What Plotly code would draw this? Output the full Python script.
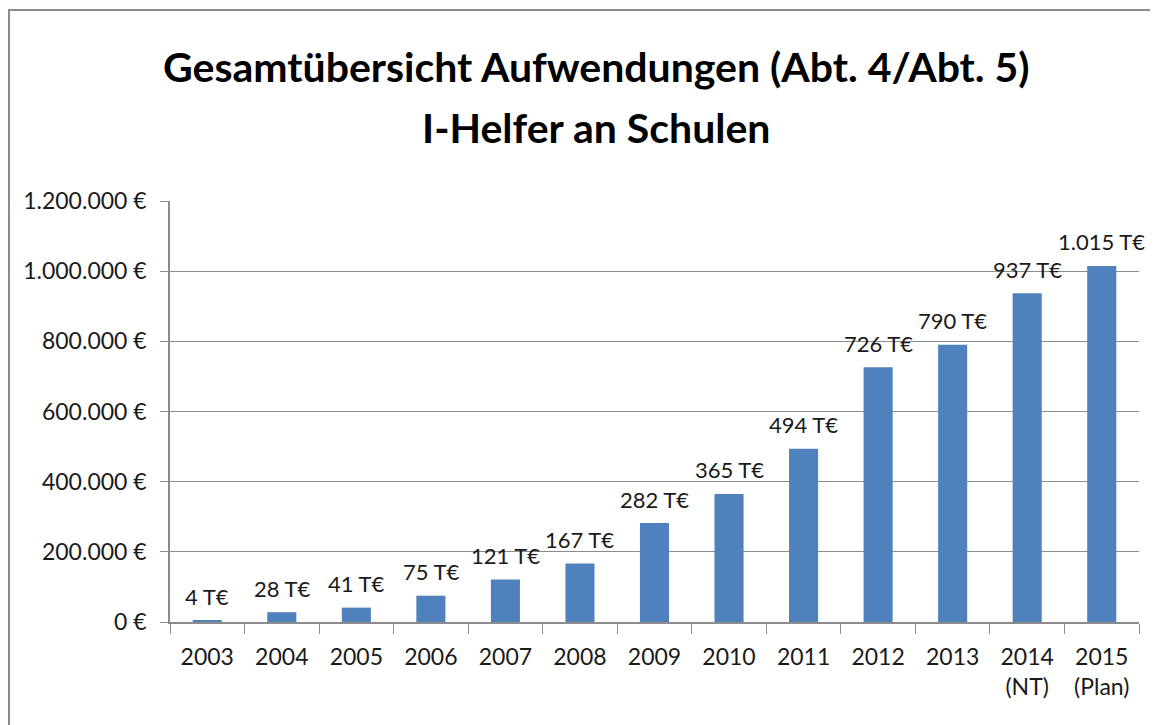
import plotly.graph_objects as go

categories = ["2003", "2004", "2005", "2006", "2007", "2008", "2009", "2010",
              "2011", "2012", "2013", "2014<br>(NT)", "2015<br>(Plan)"]
values = [4000, 28000, 41000, 75000, 121000, 167000, 282000, 365000,
          494000, 726000, 790000, 937000, 1015000]
labels = ["4 T€", "28 T€", "41 T€", "75 T€", "121 T€", "167 T€", "282 T€", "365 T€",
          "494 T€", "726 T€", "790 T€", "937 T€", "1.015 T€"]
y_ticks = [0, 200000, 400000, 600000, 800000, 1000000, 1200000]
y_ticktext = ["0 €", "200.000 €", "400.000 €", "600.000 €", "800.000 €", "1.000.000 €", "1.200.000 €"]
title_lines = ["Gesamtübersicht Aufwendungen (Abt. 4/Abt. 5)", "I-Helfer an Schulen"]

OFF = 8  # page body margin
W, H = 1150, 717
L, T = 170 - OFF, 201 - OFF
R = W - (1139 - OFF)
B = H - (622 - OFF)
pw, ph = W - L - R, H - T - B

FONT = "Lato"

fig = go.Figure()
fig.add_trace(go.Bar(x=categories, y=values, marker=dict(color="#4F81BD", line=dict(width=0)),
                     hoverinfo="x+y"))

for i, (v, t) in enumerate(zip(values, labels)):
    fig.add_annotation(x=i, y=v, text=t, showarrow=False, yanchor="middle", yshift=24,
                       font=dict(family=FONT, size=22, color="#1a1a1a"))

def px_x(px):
    return (px - OFF - L) / pw

def px_y(py):
    return (H - B - (py - OFF)) / ph

fig.add_annotation(x=px_x(596), y=px_y(66), xref="paper", yref="paper", text=title_lines[0],
                   showarrow=False, xanchor="center", yanchor="middle",
                   font=dict(family=FONT, size=41, color="#000000", weight="bold"))
fig.add_annotation(x=px_x(596), y=px_y(127), xref="paper", yref="paper", text=title_lines[1],
                   showarrow=False, xanchor="center", yanchor="middle",
                   font=dict(family=FONT, size=41, color="#000000", weight="bold"))

fig.add_shape(type="rect", xref="paper", yref="paper",
              x0=px_x(9), x1=px_x(1153), y0=px_y(760), y1=px_y(10),
              line=dict(color="#8c8c8c", width=2), fillcolor="rgba(0,0,0,0)", layer="below")

fig.update_layout(
    width=W, height=H,
    margin=dict(l=L, r=R, t=T, b=B),
    paper_bgcolor="white", plot_bgcolor="white",
    bargap=0.61,
    showlegend=False,
    font=dict(family=FONT, color="#1a1a1a"),
)
fig.update_xaxes(
    type="category", range=[-0.5, len(categories) - 0.5],
    showline=True, linecolor="#8c8c8c", linewidth=1.5,
    ticks="outside", ticklen=10, tickcolor="#8c8c8c", tickson="boundaries",
    ticklabelstandoff=14,
    tickfont=dict(family=FONT, size=23, color="#1a1a1a"),
    showgrid=False, tickangle=0,
)
fig.update_yaxes(
    range=[0, 1200000], tickvals=y_ticks, ticktext=y_ticktext,
    showline=True, linecolor="#8c8c8c", linewidth=1.5,
    ticks="outside", ticklen=8, tickcolor="#8c8c8c", ticklabelstandoff=9,
    showgrid=True, gridcolor="#8c8c8c", gridwidth=1,
    tickfont=dict(family=FONT, size=23, color="#1a1a1a"),
    zeroline=False,
)

fig.write_html("out.html")
